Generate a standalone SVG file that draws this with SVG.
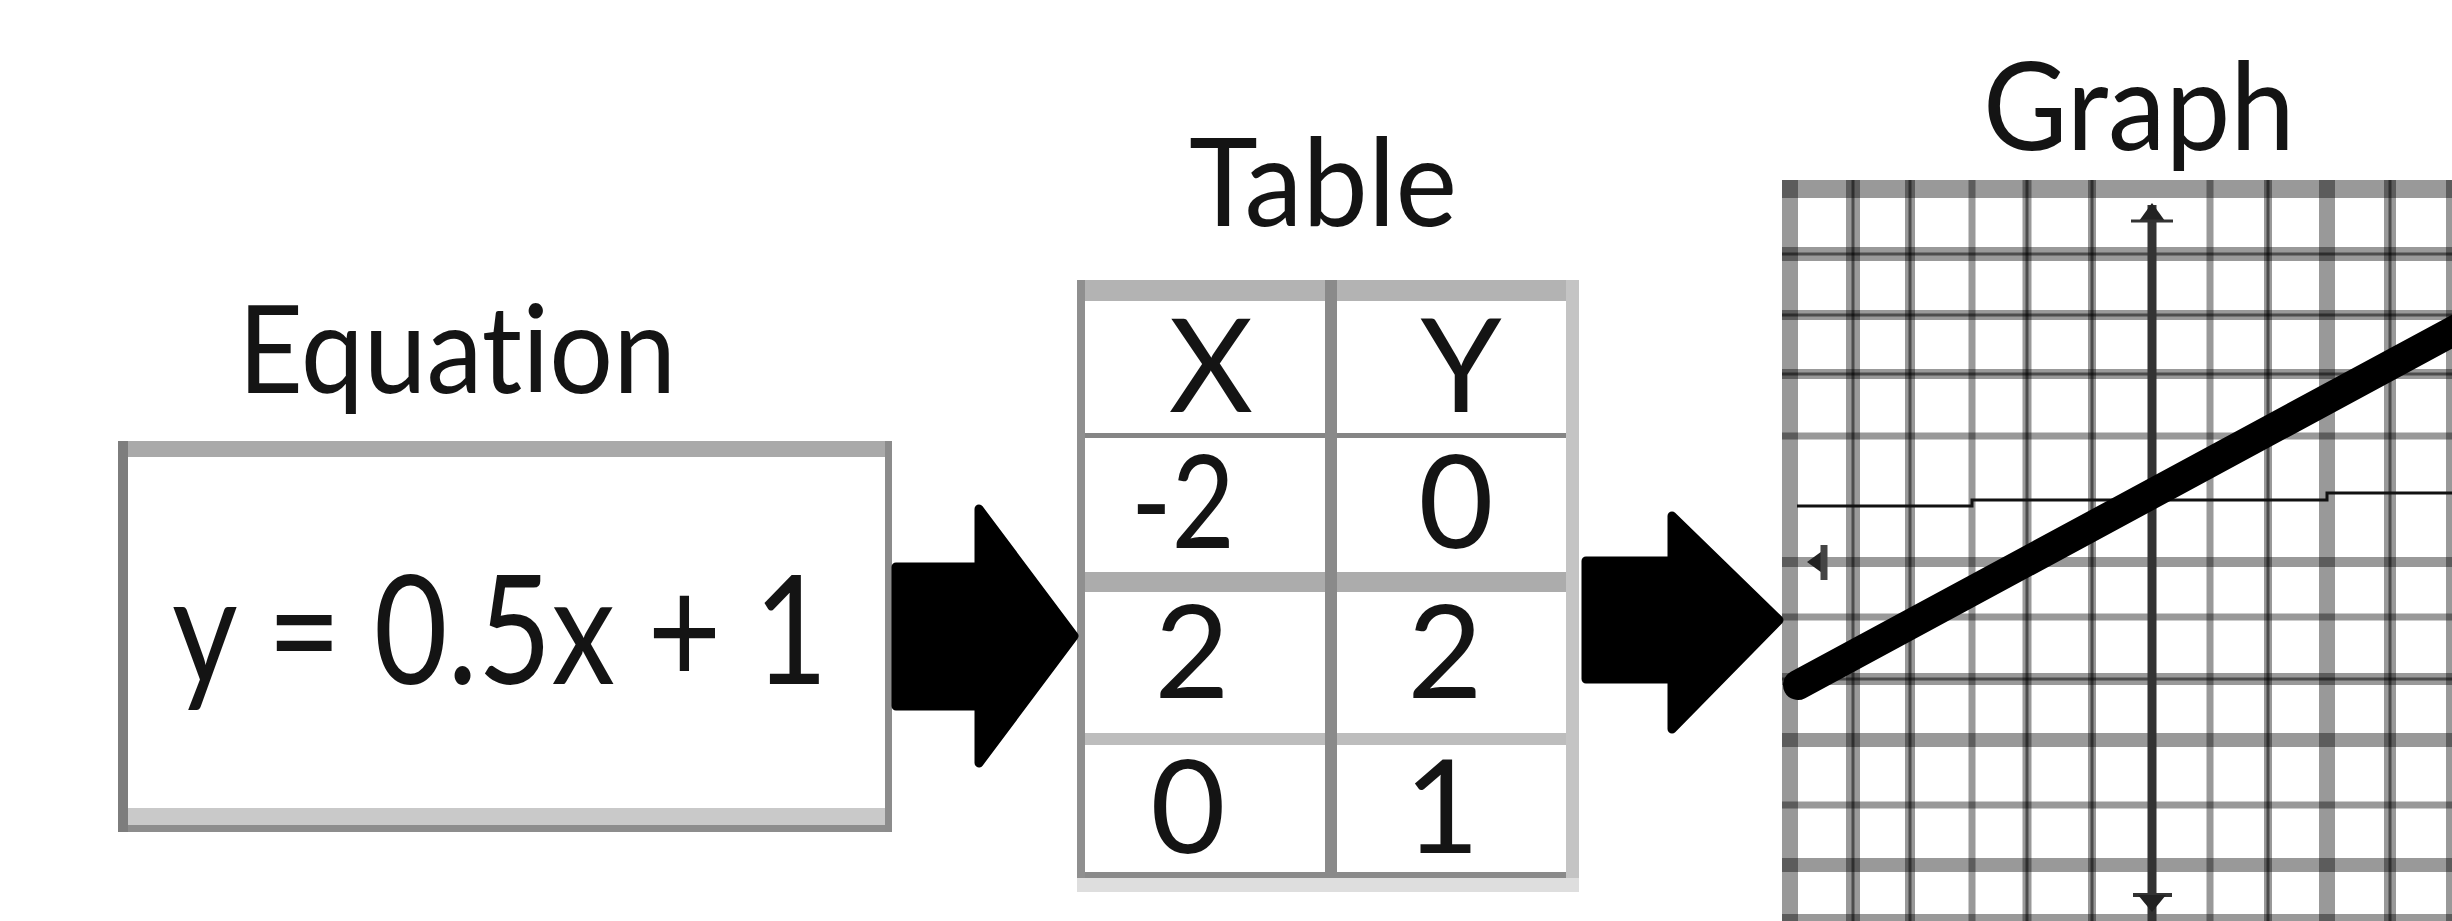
<svg xmlns="http://www.w3.org/2000/svg" width="2452" height="921" viewBox="0 0 2452 921">
<style>
text{font-variant-ligatures:none;font-feature-settings:"liga" 0,"clig" 0}
.lbl{font-family:Lato,"Open Sans","Liberation Sans",sans-serif;font-size:123px;fill:#141414}
.eq{font-family:Lato,"Open Sans","Liberation Sans",sans-serif;font-size:152px;fill:#141414}
.cell{font-family:Lato,"Open Sans","Liberation Sans",sans-serif;font-size:130px;fill:#141414;text-anchor:middle}
.gv{stroke:#000;stroke-opacity:0.4;fill:none}
.gc{stroke:#000;stroke-opacity:0.5;stroke-width:3;fill:none}
.arrow{fill:#000;stroke:#000;stroke-width:9;stroke-linejoin:round}
</style>
<rect x="0" y="0" width="2452" height="921" fill="#ffffff"/>

<g id="equation-label">
<text class="lbl" x="238" y="393" textLength="438" lengthAdjust="spacingAndGlyphs">Equation</text>
</g>

<g id="equation-box">
<rect x="118" y="441" width="774" height="391" fill="#ffffff"/>
<rect x="118" y="441" width="774" height="16" fill="#a9a9a9"/>
<rect x="118" y="808" width="774" height="18" fill="#c9c9c9"/>
<rect x="118" y="825" width="774" height="7" fill="#8d8d8d"/>
<rect x="118" y="441" width="10" height="391" fill="#7d7d7d"/>
<rect x="885" y="441" width="7" height="391" fill="#8c8c8c"/>
<text class="eq" x="172" y="684" textLength="656" lengthAdjust="spacingAndGlyphs">y = 0.5x + 1</text>
</g>

<g id="table-label">
<text class="lbl" x="1189" y="226" textLength="268" lengthAdjust="spacingAndGlyphs">Table</text>
</g>

<g id="table">
<rect x="1077" y="280" width="502" height="598" fill="#ffffff"/>
<rect x="1077" y="280" width="502" height="21" fill="#b3b3b3"/>
<rect x="1077" y="433" width="502" height="5" fill="#858585"/>
<rect x="1077" y="572" width="502" height="20" fill="#acacac"/>
<rect x="1077" y="733" width="502" height="12" fill="#bdbdbd"/>
<rect x="1077" y="872" width="502" height="6" fill="#8a8a8a"/>
<rect x="1077" y="878" width="502" height="14" fill="#dedede"/>
<rect x="1077" y="280" width="8" height="598" fill="#8f8f8f"/>
<rect x="1325" y="280" width="12" height="598" fill="#8a8a8a"/>
<rect x="1566" y="280" width="13" height="598" fill="#c4c4c4"/>
<text class="cell" x="1211" y="412">X</text>
<text class="cell" x="1461" y="412">Y</text>
<text class="cell" x="1183" y="548" textLength="104" lengthAdjust="spacingAndGlyphs">-2</text>
<text class="cell" x="1456" y="548">0</text>
<text class="cell" x="1192" y="698">2</text>
<text class="cell" x="1445" y="698">2</text>
<text class="cell" x="1188" y="853">0</text>
<text class="cell" x="1442" y="853">1</text>
</g>

<g id="graph-label">
<text class="lbl" x="1983" y="150" textLength="312" lengthAdjust="spacingAndGlyphs">Graph</text>
</g>

<g id="graph">
<rect x="1782" y="180" width="670" height="741" fill="#ffffff"/>
<line class="gv" x1="1782" y1="189" x2="2452" y2="189" stroke-width="18" stroke-opacity="0.48"/>
<line class="gv" x1="1782" y1="254" x2="2452" y2="254" stroke-width="14"/>
<line class="gv" x1="1782" y1="315" x2="2452" y2="315" stroke-width="10"/>
<line class="gv" x1="1782" y1="374" x2="2452" y2="374" stroke-width="10"/>
<line class="gv" x1="1782" y1="436" x2="2452" y2="436" stroke-width="7" stroke-opacity="0.5"/>
<line class="gv" x1="1782" y1="562" x2="2452" y2="562" stroke-width="10" stroke-opacity="0.5"/>
<line class="gv" x1="1782" y1="617" x2="2452" y2="617" stroke-width="7" stroke-opacity="0.5"/>
<line class="gv" x1="1782" y1="679" x2="2452" y2="679" stroke-width="12"/>
<line class="gv" x1="1782" y1="740" x2="2452" y2="740" stroke-width="14" stroke-opacity="0.34"/>
<line class="gv" x1="1782" y1="805" x2="2452" y2="805" stroke-width="7" stroke-opacity="0.5"/>
<line class="gv" x1="1782" y1="865" x2="2452" y2="865" stroke-width="14" stroke-opacity="0.34"/>
<line class="gv" x1="1782" y1="918" x2="2452" y2="918" stroke-width="8" stroke-opacity="0.28"/>
<g class="gc">
<line x1="1782" y1="254" x2="2452" y2="254"/>
<line x1="1782" y1="315" x2="2452" y2="315"/>
<line x1="1782" y1="374" x2="2452" y2="374"/>
<line x1="1782" y1="679" x2="2452" y2="679"/>
</g>
<line class="gv" x1="1790" y1="180" x2="1790" y2="921" stroke-width="16" stroke-opacity="0.38"/>
<line class="gv" x1="1853" y1="180" x2="1853" y2="921" stroke-width="14" stroke-opacity="0.32"/>
<line class="gv" x1="1910" y1="180" x2="1910" y2="921" stroke-width="10"/>
<line class="gv" x1="1972" y1="180" x2="1972" y2="921" stroke-width="7" stroke-opacity="0.5"/>
<line class="gv" x1="2027" y1="180" x2="2027" y2="921" stroke-width="9"/>
<line class="gv" x1="2092" y1="180" x2="2092" y2="921" stroke-width="8"/>
<line class="gv" x1="2210" y1="180" x2="2210" y2="921" stroke-width="7" stroke-opacity="0.5"/>
<line class="gv" x1="2268" y1="180" x2="2268" y2="921" stroke-width="8"/>
<line class="gv" x1="2327" y1="180" x2="2327" y2="921" stroke-width="16" stroke-opacity="0.3"/>
<line class="gv" x1="2390" y1="180" x2="2390" y2="921" stroke-width="12"/>
<line class="gv" x1="2450" y1="180" x2="2450" y2="921" stroke-width="8"/>
<g class="gc">
<line x1="1853" y1="180" x2="1853" y2="921"/>
<line x1="1910" y1="180" x2="1910" y2="921"/>
<line x1="2027" y1="180" x2="2027" y2="921"/>
<line x1="2092" y1="180" x2="2092" y2="921"/>
<line x1="2268" y1="180" x2="2268" y2="921"/>
<line x1="2390" y1="180" x2="2390" y2="921"/>
</g>
<line x1="2152" y1="205" x2="2152" y2="921" stroke="#333" stroke-width="9"/>
<polygon points="2152,203 2139,221 2165,221" fill="#222"/>
<line x1="2131" y1="221" x2="2173" y2="221" stroke="#333" stroke-width="3"/>
<line x1="2133" y1="895" x2="2172" y2="895" stroke="#333" stroke-width="4"/>
<polygon points="2138,895 2166,895 2152,912" fill="#222"/>
<polygon points="1807,562 1825,549 1825,575" fill="#222"/>
<line x1="1824" y1="545" x2="1824" y2="580" stroke="#444" stroke-width="7"/>
<polyline points="1797,506 1972,506 1972,500 2327,500 2327,493 2452,493" fill="none" stroke="#111" stroke-width="3"/>
<line x1="1798" y1="685" x2="2470" y2="322" stroke="#000" stroke-width="30" stroke-linecap="round"/>
</g>

<g id="connectors">
<path class="arrow" d="M896,567 L979,567 L979,509 L1074,636 L979,763 L979,706 L896,706 Z"/>
<path class="arrow" d="M1586,561 L1672,561 L1672,516 L1779,620 L1672,729 L1672,679 L1586,679 Z"/>
</g>
</svg>
